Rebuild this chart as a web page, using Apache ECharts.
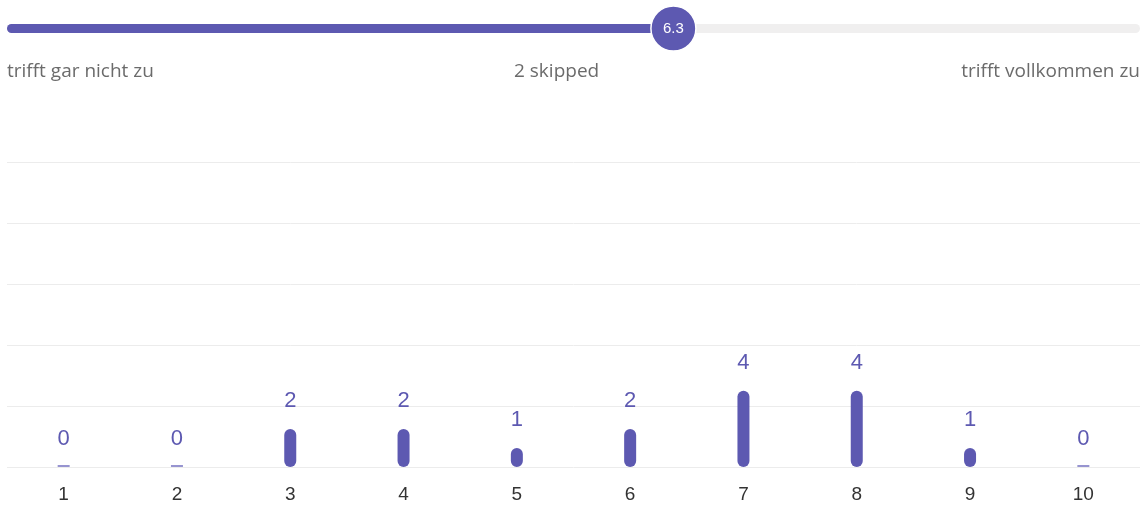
<!DOCTYPE html>
<html>
<head>
<meta charset="utf-8">
<script src="https://cdn.jsdelivr.net/npm/echarts@6/dist/echarts.min.js"></script>
<style>
  html, body { margin: 0; padding: 0; background: #fff; }
  #chart { width: 1148px; height: 509px; }
</style>
</head>
<body>
<div id="chart"></div>
<script>
  // scale answers 1..10 and how many people picked each
  const categories = ['1', '2', '3', '4', '5', '6', '7', '8', '9', '10']
  const counts = [0, 0, 2, 2, 1, 2, 4, 4, 1, 0]
  const average = 6.3
  const scaleMin = 1
  const scaleMax = 10
  const leftLabel = 'trifft gar nicht zu'
  const rightLabel = 'trifft vollkommen zu'
  const skippedLabel = '2 skipped'

  const purple = '#5d59b1'
  const gridColor = '#ececec'
  const captionStyle = { fontFamily: 'Open Sans', fontSize: 19, fontWeight: 'normal', color: '#6b6b6b' }

  let chart = echarts.init(document.getElementById('chart'))

  let zeroMarks = counts.map((v, i) => v === 0 ? [i, 0] : null).filter(d => d)

  let option = {
    animation: false,
    title: [
      { text: leftLabel, left: 2, top: 57, textStyle: captionStyle },
      { text: skippedLabel, left: 509, top: 57, textStyle: captionStyle },
      { text: rightLabel, right: 3, top: 57, textStyle: captionStyle }
    ],
    grid: [
      { left: 7, right: 8, top: 162, bottom: 42 },
      { left: 11.5, right: 12.5, top: 24, height: 9 }
    ],
    xAxis: [
      {
        type: 'category',
        gridIndex: 0,
        data: categories,
        axisLine: { show: false },
        axisTick: { show: false },
        axisLabel: { color: '#333', fontSize: 19, fontFamily: 'Liberation Sans', margin: 18 }
      },
      {
        type: 'value',
        gridIndex: 1,
        min: scaleMin,
        max: scaleMax,
        show: false
      }
    ],
    yAxis: [
      {
        type: 'value',
        gridIndex: 0,
        min: 0,
        max: 16,
        interval: 3.2,
        axisLabel: { show: false },
        axisLine: { show: false },
        axisTick: { show: false },
        splitLine: { lineStyle: { color: gridColor } }
      },
      {
        type: 'value',
        gridIndex: 1,
        min: -1,
        max: 1,
        show: false
      }
    ],
    series: [
      {
        type: 'bar',
        xAxisIndex: 0,
        yAxisIndex: 0,
        data: counts,
        barWidth: 12,
        itemStyle: { color: purple, borderRadius: 6 },
        label: {
          show: true,
          position: 'top',
          distance: 17,
          color: purple,
          fontSize: 22,
          fontFamily: 'Liberation Sans'
        }
      },
      {
        type: 'scatter',
        xAxisIndex: 0,
        yAxisIndex: 0,
        data: zeroMarks,
        symbol: 'rect',
        symbolSize: [12, 1.5],
        symbolOffset: [0, -1],
        itemStyle: { color: '#7471c0', opacity: 1 },
        z: 3
      },
      {
        // slider track
        type: 'line',
        xAxisIndex: 1,
        yAxisIndex: 1,
        data: [[scaleMin, 0], [scaleMax, 0]],
        symbol: 'none',
        lineStyle: { color: '#f0efef', width: 9, cap: 'round' },
        z: 1
      },
      {
        // filled part up to the average
        type: 'line',
        xAxisIndex: 1,
        yAxisIndex: 1,
        data: [[scaleMin, 0], [average, 0]],
        symbol: 'none',
        lineStyle: { color: purple, width: 9, cap: 'round' },
        z: 2
      },
      {
        type: 'scatter',
        xAxisIndex: 1,
        yAxisIndex: 1,
        data: [[average, 0]],
        symbolSize: 45,
        itemStyle: { color: purple, opacity: 1, borderColor: '#fff', borderWidth: 1.5 },
        label: {
          show: true,
          position: 'inside',
          formatter: average.toFixed(1),
          color: '#fff',
          fontSize: 15,
          fontFamily: 'Liberation Sans'
        },
        z: 5
      }
    ]
  }

  chart.setOption(option)

  window.addEventListener('resize', function () {
    chart.resize()
  })
</script>
</body>
</html>
